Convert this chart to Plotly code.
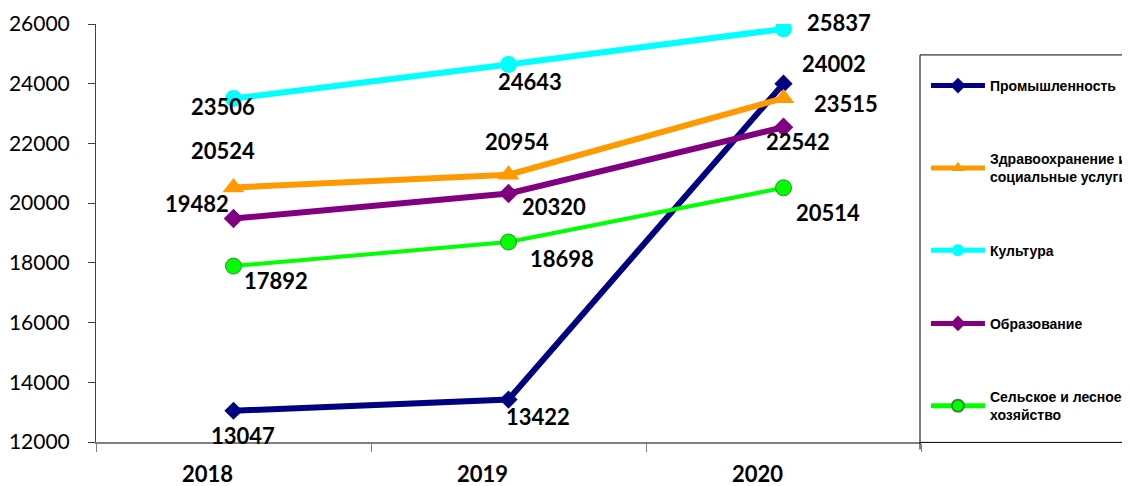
import plotly.graph_objects as go

years = ["2018", "2019", "2020"]
series_names = [
    "Промышленность",
    "Здравоохранение и<br>социальные услуги",
    "Культура",
    "Образование",
    "Сельское и лесное<br>хозяйство",
]
industry = [13047, 13422, 24002]
health = [20524, 20954, 23515]
culture = [23506, 24643, 25837]
education = [19482, 20320, 22542]
agriculture = [17892, 18698, 20514]
y_ticks = [12000, 14000, 16000, 18000, 20000, 22000, 24000, 26000]

values = [industry, health, culture, education, agriculture]
colors = ["#000080", "#FF9900", "#00FFFF", "#800080", "#00FF00"]
symbols = ["diamond", "triangle-up", "circle", "diamond", "circle"]
msizes = [14, 19, 17, 15, 16]
lwidths = [6, 6, 6, 6, 4]
mline = [dict(width=0), dict(width=0), dict(width=0), dict(width=0),
         dict(width=1, color="#2E8B2E")]

# label offsets (px) per series per year: (xshift, yshift)
offsets = [
    [(9, -25), (29, -17), (50, 20)],
    [(-11, 37), (8, 33), (62, -5)],
    [(-11, -8), (21, -17), (55, 6)],
    [(-37, 15), (45, -13), (14, -14)],
    [(42, -14), (53, -16), (44, -25)],
]

fig = go.Figure()
for i in range(5):
    fig.add_trace(go.Scatter(
        x=years, y=values[i], name=series_names[i], mode="lines+markers",
        line=dict(color=colors[i], width=lwidths[i]),
        marker=dict(symbol=symbols[i], size=msizes[i], color=colors[i], line=mline[i]),
        legendgroup=str(i),
    ))

annotations = []
for i in range(5):
    for j, yr in enumerate(years):
        dx, dy = offsets[i][j]
        annotations.append(dict(
            x=j, y=values[i][j], xref="x", yref="y", text=str(values[i][j]), showarrow=False,
            xshift=dx, yshift=dy,
            font=dict(family="Lato", size=22, color="black", weight="bold"),
        ))

shapes = [
    dict(type="rect", xref="paper", yref="paper", x0=0.9988, x1=1.26, y0=-0.001, y1=0.926,
         line=dict(color="black", width=1), fillcolor="rgba(0,0,0,0)"),
    dict(type="line", xref="paper", yref="paper", x0=0.9988, x1=0.9988, y0=-0.018, y1=0.0,
         line=dict(color="black", width=1)),
]

fig.update_layout(
    width=1122, height=478,
    margin=dict(l=88, r=209, t=16, b=44, autoexpand=False),
    plot_bgcolor="white", paper_bgcolor="white",
    showlegend=True,
    legend=dict(
        x=1.006, xanchor="left", y=0.89, yanchor="top",
        font=dict(family="Liberation Sans", size=14, color="black", weight="bold"),
        itemwidth=54, tracegroupgap=52, borderwidth=0, bgcolor="rgba(0,0,0,0)",
        itemsizing="constant",
    ),
    xaxis=dict(
        type="category", range=[-0.5, 2.5], showline=True, linecolor="#808080", linewidth=2,
        ticks="outside", tickson="boundaries", ticklen=8, tickcolor="#808080", tickwidth=1,
        showgrid=False, zeroline=False, ticklabelshift=-26, ticklabelstandoff=12,
        tickfont=dict(family="Lato", size=22, color="black", weight="bold"),
    ),
    yaxis=dict(
        range=[12000, 26000], tickvals=y_ticks, tickformat="d", showline=True,
        linecolor="#404040", linewidth=1,
        ticks="outside", ticklen=7, tickcolor="#404040", showgrid=False, zeroline=False,
        ticklabelstandoff=14, tickfont=dict(family="Lato", size=21, color="black"),
    ),
    annotations=annotations, shapes=shapes,
)

fig.write_html("out.html")
